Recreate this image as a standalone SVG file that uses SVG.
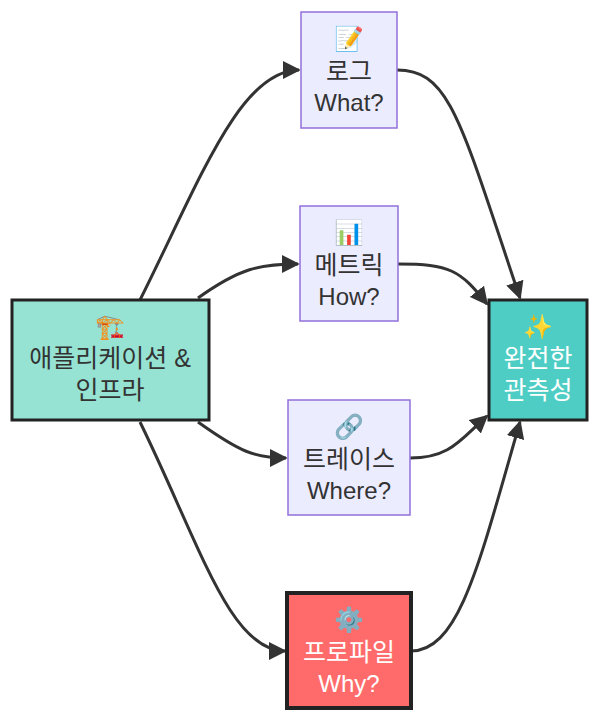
<svg xmlns="http://www.w3.org/2000/svg" width="600" height="722" viewBox="0 0 600 722">
<style>
text{font-family:"Liberation Sans","Noto Sans CJK KR",sans-serif;font-size:24px;fill:#333;text-anchor:middle}
.k{font-size:25px}
.w{fill:#fff}
.p{fill:#ececff;stroke:#9370db;stroke-width:1.5}
.e{fill:none;stroke:#333;stroke-width:3}
</style>
<defs>
<marker id="b" viewBox="0 0 10 10" refX="9" refY="5" markerWidth="6" markerHeight="6" orient="auto"><path d="M0,0L10,5L0,10z" fill="#333"/></marker></defs>
<g id="edges">
<path class="e" marker-end="url(#b)" d="M140,300 C200,180 240,70 299,70"/>
<path class="e" marker-end="url(#b)" d="M198,298 C240,268 260,264 298,264"/>
<path class="e" marker-end="url(#b)" d="M198,422 C240,452 255,458 286,458"/>
<path class="e" marker-end="url(#b)" d="M140,422 C200,545 230,651 285,651"/>
<path class="e" marker-end="url(#b)" d="M397,70 C450,70 460,120 520,298"/>
<path class="e" marker-end="url(#b)" d="M398,264 C450,264 460,270 487,304"/>
<path class="e" marker-end="url(#b)" d="M410,458 C450,458 460,440 487,416"/>
<path class="e" marker-end="url(#b)" d="M411,651 C460,651 480,560 520,422"/>
</g>
<g id="app"><rect x="12" y="300" width="197" height="120" fill="#96e3d3" stroke="#222" stroke-width="3"/>
<text x="110" y="335">🏗️</text><text class="k" x="110" y="367">애플리케이션 &amp;</text><text class="k" x="110" y="399">인프라</text></g>
<g id="log"><rect class="p" x="301" y="12" width="96" height="116"/>
<text x="349" y="47">📝</text><text class="k" x="349" y="80">로그</text><text x="349" y="111">What?</text></g>
<g id="metric"><rect class="p" x="300" y="206" width="98" height="115"/>
<text x="349" y="241">📊</text><text class="k" x="349" y="274">메트릭</text><text x="349" y="305">How?</text></g>
<g id="trace"><rect class="p" x="288" y="400" width="122" height="115"/>
<text x="349" y="435">🔗</text><text class="k" x="349" y="468">트레이스</text><text x="349" y="499">Where?</text></g>
<g id="profile"><rect x="287" y="593" width="124" height="115" fill="#ff6b6b" stroke="#222" stroke-width="4"/>
<text class="w" x="349" y="628">⚙️</text><text class="w k" x="349" y="661">프로파일</text><text class="w" x="349" y="692">Why?</text></g>
<g id="result"><rect x="489" y="300" width="98" height="120" fill="#4ecdc4" stroke="#222" stroke-width="3"/>
<text class="w" x="538" y="335">✨</text><text class="w k" x="538" y="367">완전한</text><text class="w k" x="538" y="399">관측성</text></g>
</svg>
